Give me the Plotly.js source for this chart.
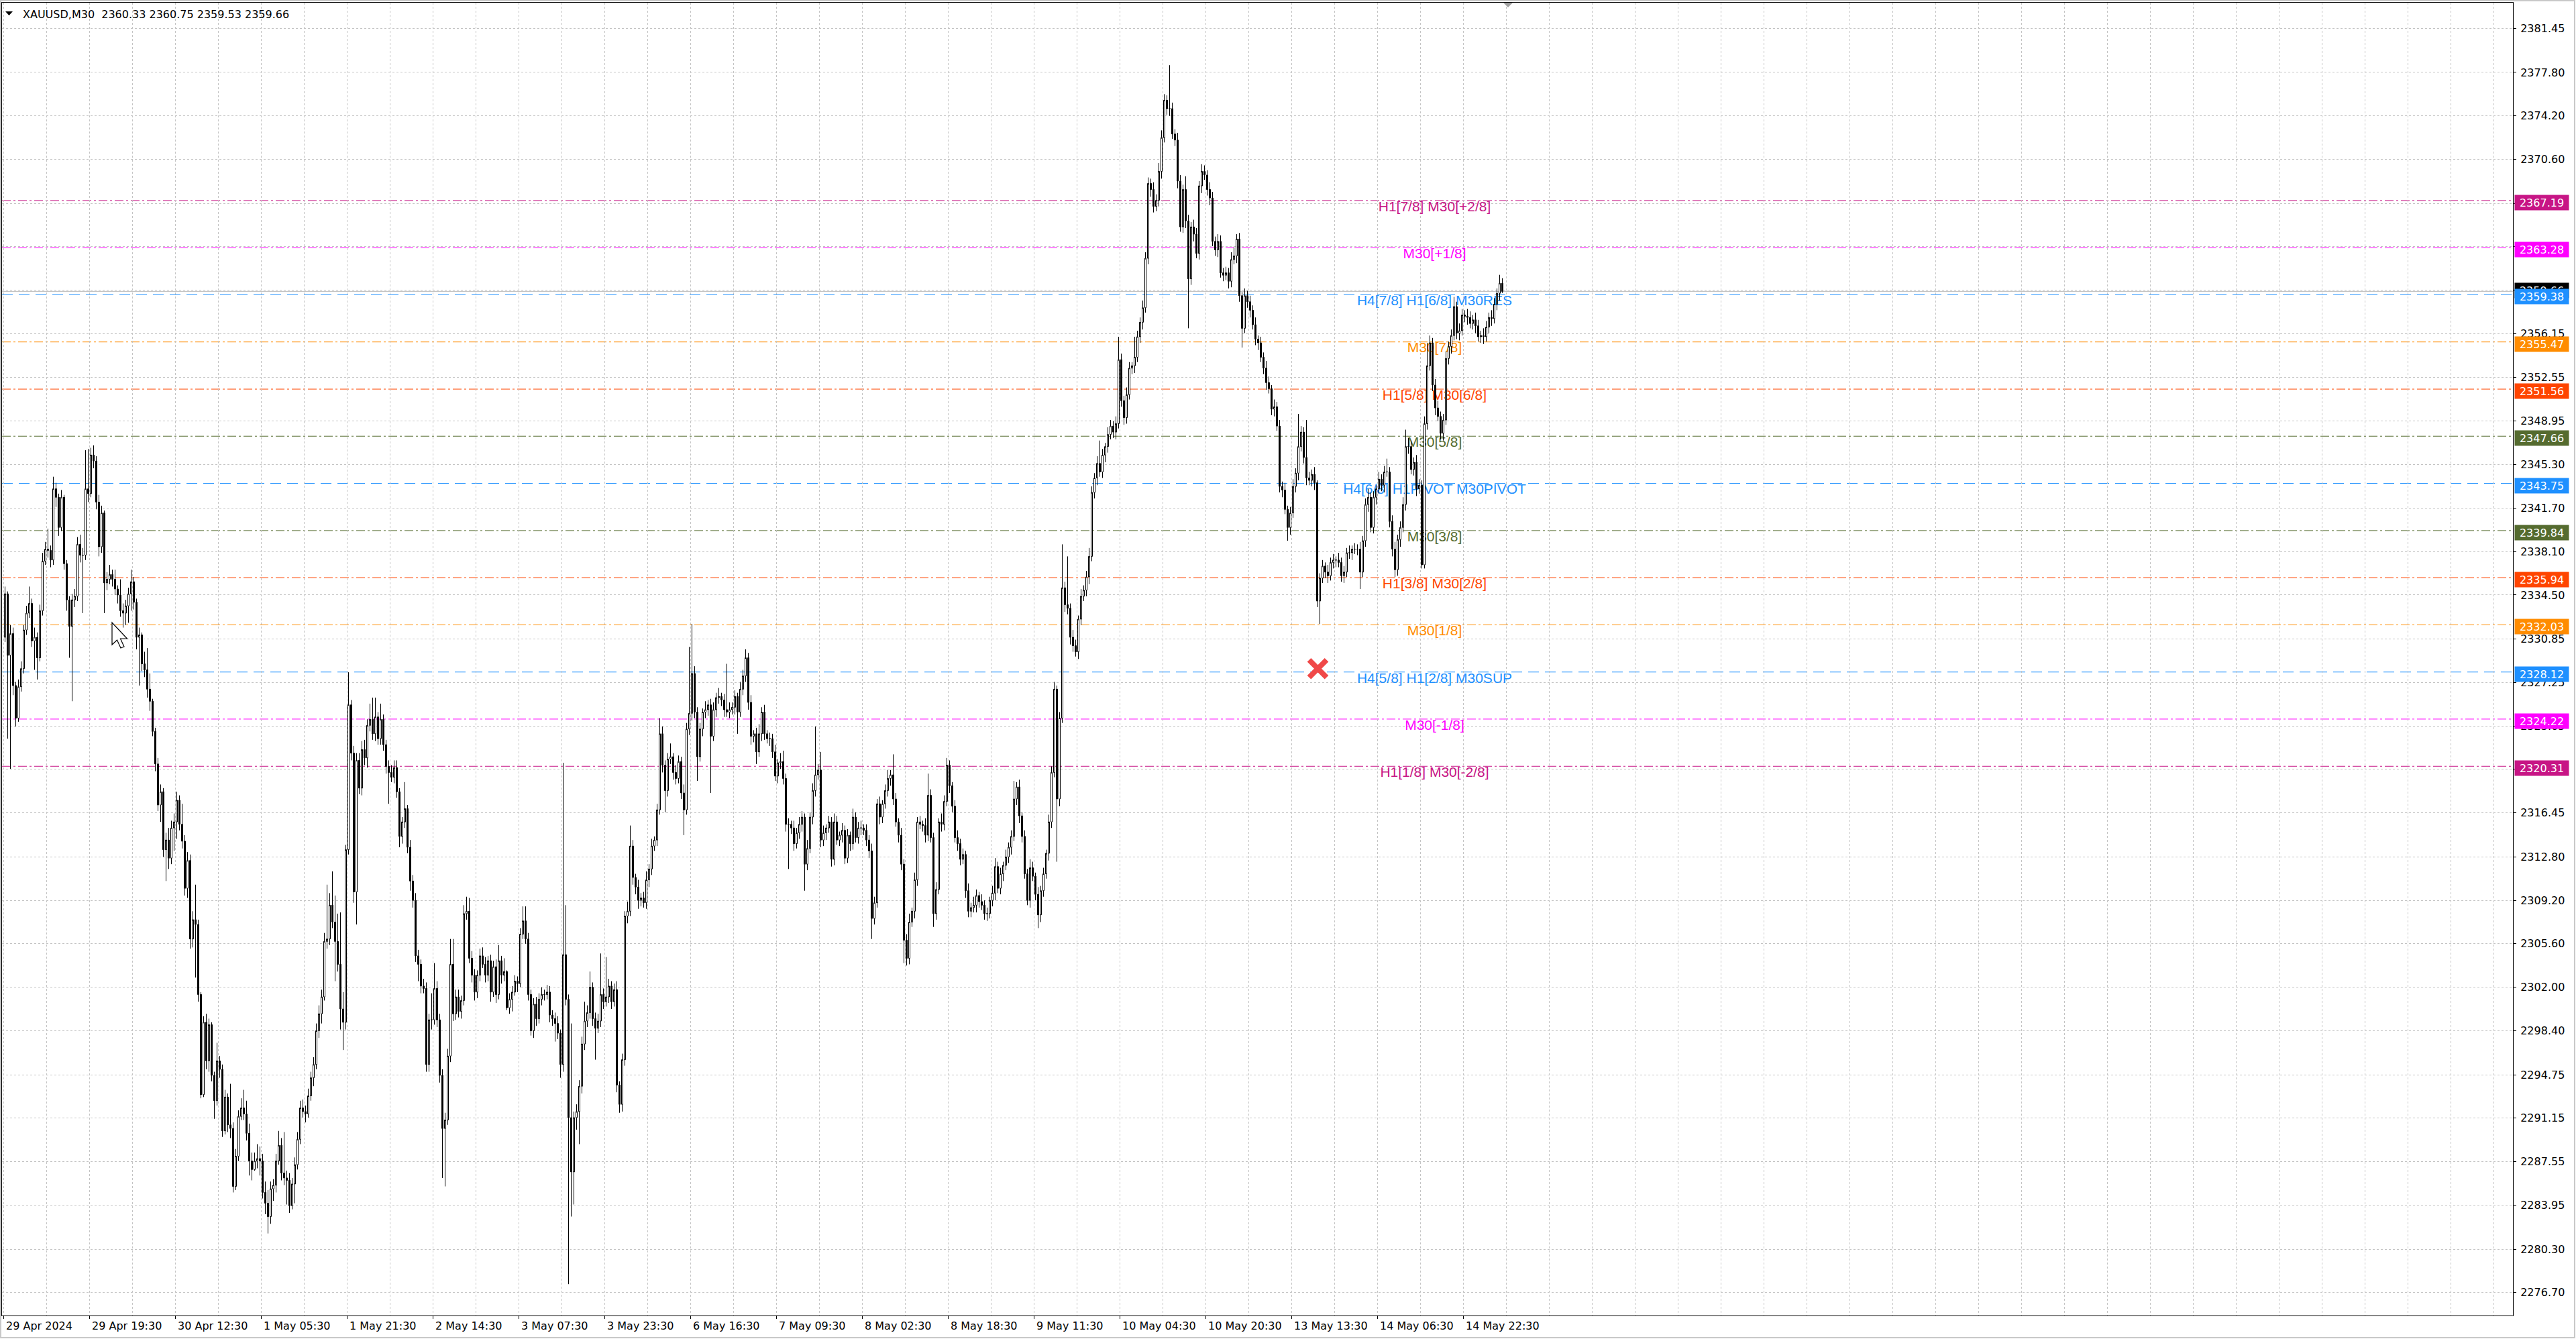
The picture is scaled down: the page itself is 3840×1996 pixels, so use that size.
<!DOCTYPE html>
<html>
<head>
<meta charset="utf-8">
<script src="https://cdn.plot.ly/plotly-3.0.1.min.js"></script>
<style>
  html, body { margin: 0; padding: 0; background: #ffffff; }
  #chart { width: 3840px; height: 1996px; }
</style>
</head>
<body>
<div id="chart"></div>
<script>
// XAUUSD M30 candles, 29 Apr 03:30 .. 15 May 06:30 (server time), one value per bar.
const firstOpen = 2331.0;

// Week of 29 Apr - 3 May (bars 0..224)
const week1Close = [
  2334.6,2329.5,2331.3,2327.0,2324.3,2326.9,2328.4,2331.6,2333.0,2333.8,
  2330.7,2331.0,2329.3,2333.2,2337.3,2338.3,2338.2,2337.4,2343.3,2342.6,
  2340.1,2342.6,2337.1,2334.1,2331.9,2334.1,2334.4,2338.7,2337.8,2337.8,
  2343.3,2342.9,2346.1,2345.6,2342.2,2338.5,2341.3,2335.5,2335.8,2336.2,
  2335.8,2335.0,2334.5,2333.2,2333.0,2333.6,2334.6,2335.6,2333.9,2331.0,
  2331.2,2328.8,2328.3,2326.7,2325.7,2323.2,2320.5,2317.1,2318.2,2313.4,
  2314.2,2312.7,2315.2,2315.7,2317.5,2315.5,2314.1,2310.2,2312.5,2306.0,
  2307.6,2307.2,2301.4,2293.1,2299.1,2295.9,2298.9,2294.7,2292.6,2295.9,
  2295.2,2290.1,2292.9,2290.6,2290.3,2285.5,2288.0,2291.3,2292.0,2291.5,
  2289.9,2287.6,2286.9,2287.6,2287.8,2287.6,2285.0,2284.1,2283.0,2285.3,
  2285.6,2287.6,2288.9,2286.6,2286.2,2286.0,2283.9,2285.7,2287.3,2289.4,
  2292.0,2291.7,2291.5,2293.0,2294.5,2295.6,2298.4,2299.8,2301.2,2305.8,
  2306.0,2308.8,2307.4,2305.8,2303.9,2300.2,2299.1,2313.4,2325.4,2321.4,
  2309.9,2320.8,2318.5,2321.7,2321.0,2323.7,2324.2,2323.0,2324.4,2322.6,
  2324.2,2322.1,2320.3,2319.8,2319.4,2320.2,2318.2,2314.5,2315.7,2316.8,
  2313.6,2310.8,2309.2,2304.6,2303.9,2302.1,2301.9,2295.6,2299.3,2299.3,
  2301.9,2299.3,2294.7,2290.3,2291.0,2296.3,2303.9,2299.8,2301.2,2300.0,
  2300.9,2308.1,2308.3,2304.4,2303.0,2301.6,2303.0,2304.6,2303.9,2303.0,
  2304.2,2301.6,2303.7,2301.4,2304.2,2303.0,2303.3,2300.3,2301.0,2301.6,
  2302.5,2302.3,2306.4,2307.5,2306.0,2301.4,2298.4,2300.6,2299.4,2301.0,
  2301.4,2301.4,2301.6,2299.7,2299.4,2299.0,2298.2,2295.6,2304.7,2301.0,
  2291.2,2286.7,2291.2,2291.7,2293.8,2297.3,2299.2,2299.9,2302.0,2299.4,
  2298.6,2299.2,2301.4,2300.8,2301.2
];
const week1WickUp = [
  0.6,0.2,0.7,0.5,0.3,0.6,0.6,0.4,0.6,1.4,
  0.4,0.8,0.4,0.5,0.7,0.6,1.7,0.4,1.0,0.5,
  0.3,0.6,0.2,0.3,0.3,0.5,0.6,0.6,0.8,0.6,
  3.2,3.3,0.6,0.8,0.4,0.6,0.6,0.2,0.6,0.8,
  0.4,0.8,0.3,1.3,0.6,0.5,0.5,1.0,0.4,0.3,
  0.6,0.2,1.0,1.8,1.3,0.2,0.3,0.5,0.6,0.3,
  0.6,1.0,0.6,0.7,0.7,0.4,1.7,0.5,0.7,0.5,
  0.7,2.9,0.4,0.2,0.5,0.7,0.5,0.2,0.3,1.5,
  0.4,0.4,0.6,0.3,3.4,0.5,0.6,0.5,0.8,1.5,
  1.1,0.8,0.7,0.7,1.2,1.0,0.6,0.9,1.1,0.6,
  0.5,0.6,1.2,0.6,3.4,0.6,0.6,0.5,0.6,0.6,
  0.6,0.7,0.5,0.6,0.5,0.6,0.6,0.7,0.6,0.7,
  4.5,1.0,2.8,2.2,2.3,4.3,1.4,0.4,2.7,0.4,
  0.6,0.6,0.6,0.7,0.8,0.5,1.3,1.8,1.6,0.4,
  1.3,0.4,0.4,0.5,0.6,0.6,0.6,0.3,0.4,2.2,
  0.3,0.6,0.5,0.6,0.5,0.4,0.6,0.5,0.5,2.2,
  2.1,0.6,0.5,0.5,0.6,0.6,2.1,2.1,0.6,0.6,
  0.4,0.7,1.2,1.1,0.6,0.5,0.4,0.6,0.7,0.6,
  0.4,0.5,0.5,0.6,1.3,0.4,1.1,0.1,0.5,0.5,
  0.5,0.4,0.5,1.2,1.2,0.5,0.4,0.5,0.6,0.5,
  0.6,0.4,0.6,0.5,0.4,0.5,0.6,0.3,15.9,4.1,
  0.4,7.8,0.5,0.6,0.5,0.6,1.6,0.6,1.3,0.4,
  0.5,0.6,3.4,0.5,3.3
];
const week1WickDown = [
  0.4,6.9,9.4,0.8,0.7,0.3,0.4,0.4,0.4,0.4,
  0.5,2.4,1.8,0.3,0.4,0.3,0.6,0.6,0.4,0.8,
  0.7,0.3,0.5,0.9,2.6,6.2,0.6,0.4,0.6,4.8,
  0.4,0.7,0.3,0.6,0.6,0.8,0.5,2.5,0.6,0.4,
  0.6,0.5,0.7,0.5,1.2,1.0,1.4,1.4,0.6,1.0,
  4.0,0.6,0.6,0.7,0.8,0.4,0.6,0.5,1.4,0.6,
  2.6,0.9,0.5,1.9,1.4,0.5,0.6,0.6,0.8,0.8,
  0.7,4.4,0.6,0.3,0.2,0.7,0.9,0.5,1.5,0.4,
  0.7,0.5,0.3,0.6,0.8,0.5,0.3,0.4,0.3,0.5,
  0.6,1.2,0.9,0.1,0.6,1.2,0.5,0.9,1.4,0.6,
  1.0,0.6,0.3,0.6,0.6,2.0,0.6,0.3,1.6,0.4,
  0.4,0.5,0.7,0.3,0.4,0.7,0.4,0.6,0.8,0.3,
  0.6,0.5,0.5,3.3,0.6,1.7,2.3,0.6,0.4,0.6,
  0.9,2.7,0.5,0.6,0.6,0.8,0.5,0.5,0.6,0.5,
  0.5,0.5,0.6,2.6,0.4,0.5,0.5,0.9,0.6,0.5,
  0.5,0.8,0.6,0.5,1.4,0.6,0.4,0.6,0.6,0.8,
  0.4,0.6,0.6,4.1,4.8,0.4,0.5,0.6,0.5,0.5,
  0.6,0.4,0.5,0.4,0.6,0.7,0.5,0.5,0.3,0.6,
  0.5,0.8,0.4,0.7,0.4,0.7,0.5,0.2,0.5,1.0,
  0.3,0.7,0.3,0.4,0.4,0.5,0.4,0.6,0.6,0.4,
  0.5,0.5,0.4,0.6,0.6,1.5,0.5,1.1,0.6,0.5,
  13.8,3.7,2.7,1.0,2.7,0.6,0.5,0.5,0.5,0.6,
  2.6,0.4,0.5,0.6,0.4
];

// Week of 6 - 10 May (bars 225..454)
const week2Close = [
  2302.1,2300.8,2301.8,2293.9,2292.3,2296.0,2307.9,2308.3,2313.7,2311.1,
  2310.3,2309.2,2309.4,2309.0,2310.9,2311.8,2313.7,2314.2,2316.7,2323.0,
  2320.4,2318.3,2320.9,2321.1,2319.8,2319.3,2320.7,2318.1,2316.7,2323.4,
  2324.7,2328.0,2324.8,2321.1,2323.4,2324.8,2325.0,2325.4,2322.8,2325.0,
  2326.0,2326.1,2325.8,2325.0,2324.8,2325.0,2325.2,2326.1,2324.8,2326.7,
  2327.8,2329.3,2325.6,2322.8,2323.0,2321.5,2323.0,2324.8,2323.0,2322.6,
  2322.6,2321.5,2319.5,2320.6,2320.7,2319.3,2315.5,2315.5,2315.2,2313.9,
  2314.8,2315.5,2316.1,2312.2,2313.5,2316.1,2318.3,2319.6,2320.0,2314.2,
  2314.8,2315.2,2315.7,2312.6,2315.7,2314.2,2314.6,2315.0,2312.7,2314.6,
  2313.9,2316.1,2314.4,2315.2,2315.2,2315.0,2314.2,2313.3,2307.7,2309.0,
  2317.2,2316.1,2317.2,2318.3,2319.3,2319.6,2317.6,2315.7,2314.6,2312.2,
  2305.9,2304.4,2307.4,2308.3,2310.9,2315.7,2315.5,2315.4,2314.6,2317.9,
  2314.4,2308.1,2310.1,2315.7,2315.5,2317.4,2320.4,2318.7,2317.0,2314.4,
  2313.9,2312.6,2313.0,2310.0,2308.3,2308.6,2308.8,2309.6,2309.1,2308.8,
  2308.1,2308.1,2309.2,2309.8,2312.0,2310.2,2311.4,2312.1,2312.8,2313.6,
  2314.5,2317.6,2318.6,2316.2,2314.5,2311.4,2309.2,2311.9,2311.2,2309.7,
  2308.0,2310.0,2311.4,2313.1,2315.7,2319.8,2326.7,2317.6,2324.3,2335.1,
  2333.7,2333.4,2331.0,2330.3,2329.8,2332.5,2334.4,2334.9,2336.0,2337.7,
  2343.0,2344.2,2345.4,2344.7,2346.1,2346.8,2347.8,2348.5,2348.0,2348.7,
  2354.0,2350.6,2349.2,2351.1,2353.3,2353.5,2354.2,2355.9,2357.1,2358.3,
  2362.4,2368.6,2368.1,2366.7,2367.2,2369.6,2372.4,2375.5,2374.8,2374.8,
  2372.7,2372.2,2368.8,2365.0,2368.1,2365.5,2360.7,2365.0,2364.4,2362.8,
  2368.4,2369.6,2369.3,2368.1,2367.4,2363.8,2363.1,2363.8,2361.2,2361.0
];
const week2WickUp = [
  0.6,0.4,0.5,0.7,0.3,0.5,0.4,0.8,1.7,0.5,
  0.3,0.6,0.4,0.5,0.7,0.4,0.6,0.3,0.5,1.3,
  0.6,0.4,0.5,1.1,0.3,0.6,0.5,0.4,0.7,0.5,
  5.5,4.1,0.6,0.4,0.5,0.3,0.7,0.4,0.5,0.6,
  0.4,0.7,0.3,0.5,3.8,0.6,0.4,0.5,0.3,0.6,
  0.5,0.7,0.4,0.6,0.3,0.5,0.8,0.4,0.6,0.3,
  0.5,0.4,0.6,0.3,0.7,0.9,0.4,0.5,0.3,0.6,
  0.4,0.6,0.5,0.3,0.7,0.4,0.6,4.0,0.5,1.5,
  0.6,0.3,0.5,0.4,0.7,0.5,0.3,0.6,0.4,0.5,
  0.3,0.7,0.4,0.5,0.6,0.3,0.5,0.4,0.6,0.5,
  0.4,0.6,0.3,0.5,0.7,0.4,1.7,0.5,0.3,0.6,
  0.4,0.5,0.7,0.3,0.6,0.4,0.5,0.3,0.6,1.8,
  0.5,0.4,0.6,0.3,0.7,0.5,0.6,0.4,0.3,0.5,
  0.6,0.4,0.5,0.3,0.6,0.4,0.7,0.5,0.3,0.6,
  0.4,0.5,0.3,0.6,0.7,0.4,0.5,0.3,0.6,0.4,
  0.5,1.5,0.4,0.6,0.3,0.5,0.4,0.7,0.5,0.3,
  0.6,0.4,0.5,0.3,0.6,0.5,0.6,0.3,0.5,3.6,
  0.5,4.0,0.4,0.6,0.5,0.3,0.6,0.4,0.5,0.7,
  0.5,0.4,0.6,1.9,0.5,0.3,0.6,0.5,0.4,0.6,
  1.9,0.5,0.4,0.6,0.5,0.3,1.7,0.5,0.4,0.6,
  0.5,0.5,0.4,0.6,0.5,0.7,0.6,0.5,0.4,3.6,
  0.5,0.4,0.6,0.5,0.4,1.1,0.5,0.4,0.6,0.5,
  0.4,0.6,0.5,0.4,0.6,0.5,0.4,0.6,0.5,0.4
];
const week2WickDown = [
  0.5,0.6,0.4,0.6,0.7,0.6,0.5,0.6,0.4,0.6,
  0.6,0.7,0.5,0.4,0.5,0.6,0.5,0.4,0.5,0.4,
  0.6,1.8,0.5,0.4,0.6,0.5,0.4,0.5,2.1,0.4,
  0.5,0.6,0.5,2.0,0.4,0.6,0.5,0.5,4.7,0.4,
  0.6,0.5,0.5,0.6,0.4,0.5,0.4,0.6,1.8,0.4,
  0.5,0.5,0.6,0.7,0.5,1.0,0.4,0.6,0.5,0.4,
  0.6,0.5,0.4,0.6,0.5,0.5,0.6,3.7,0.5,0.6,
  0.4,0.5,0.6,2.2,0.5,0.4,0.6,0.5,0.4,0.6,
  0.5,0.6,0.4,0.6,0.5,0.4,0.5,0.6,0.5,0.4,
  0.6,0.5,0.4,0.5,0.6,0.4,0.5,0.6,1.7,0.5,
  0.4,0.6,0.5,0.4,0.5,0.6,0.5,0.4,0.6,0.5,
  1.9,0.6,0.5,0.4,0.6,0.5,0.4,0.5,0.6,0.5,
  0.4,1.1,0.5,0.4,0.6,0.5,0.4,0.6,0.5,0.4,
  0.6,0.5,0.4,0.6,0.5,0.5,0.4,0.6,0.5,0.4,
  0.5,0.6,0.4,0.5,0.6,0.4,0.5,0.6,0.4,0.5,
  0.6,0.4,0.5,0.6,0.5,0.4,0.4,0.6,0.4,0.5,
  1.1,0.6,0.5,0.4,0.6,0.5,0.4,5.2,0.6,0.4,
  0.6,0.5,0.6,0.5,0.4,0.6,0.5,0.4,0.5,0.6,
  0.4,0.5,0.6,0.4,0.5,0.6,0.5,0.4,0.5,0.6,
  0.4,0.5,0.6,0.5,0.4,0.5,0.6,0.4,0.5,0.6,
  0.4,0.5,0.6,0.5,0.4,0.5,0.6,0.4,0.5,0.6,
  0.4,0.5,0.6,0.4,0.5,0.6,4.1,0.5,0.6,0.4,
  0.5,0.6,0.4,0.5,0.6,0.4,0.5,0.6,0.4,0.5
];

// 13 - 15 May (bars 455..558)
const week3Close = [
  2361.2,2360.5,2362.3,2362.6,2364.0,2359.3,2356.6,2359.3,2358.8,2358.1,
  2356.9,2355.7,2355.4,2354.2,2353.3,2352.1,2351.6,2349.9,2350.1,2348.5,
  2343.5,2343.2,2341.6,2340.1,2341.3,2343.5,2344.6,2346.8,2348.0,2345.9,
  2344.2,2344.0,2344.5,2343.8,2334.0,2335.9,2336.9,2336.4,2336.1,2337.2,
  2337.4,2337.4,2337.2,2336.1,2336.4,2338.0,2338.0,2338.3,2338.3,2338.3,
  2336.4,2339.0,2342.0,2342.6,2340.1,2342.6,2343.3,2344.1,2343.6,2344.7,
  2344.7,2340.6,2338.3,2336.6,2339.1,2340.1,2342.0,2346.8,2346.8,2344.9,
  2345.5,2343.3,2343.6,2337.0,2348.7,2353.5,2355.4,2351.9,2350.0,2349.3,
  2347.9,2349.0,2354.1,2355.1,2356.0,2358.4,2356.2,2356.4,2357.7,2357.6,
  2357.5,2357.0,2357.3,2356.8,2355.9,2356.0,2355.9,2356.7,2357.5,2357.4,
  2358.6,2359.5,2360.33,2359.66
];
const week3WickUp = [
  0.5,0.4,0.6,0.7,0.4,0.5,0.3,0.6,0.4,0.5,
  0.4,0.6,0.3,0.5,0.4,0.6,0.5,0.3,0.6,0.4,
  0.5,0.4,0.6,0.3,0.5,0.6,0.4,2.7,0.5,0.4,
  3.1,0.5,0.4,0.6,0.2,0.4,0.5,0.3,0.6,0.4,
  0.5,0.3,0.6,0.4,0.5,0.4,0.6,0.3,0.5,0.4,
  0.6,0.4,0.5,0.7,0.4,0.5,0.3,0.6,0.4,0.5,
  1.1,0.4,0.5,0.6,0.4,0.5,0.6,1.4,0.7,0.5,
  0.4,0.6,0.5,0.4,0.6,1.9,0.6,0.4,0.5,0.6,
  0.4,0.5,0.6,0.4,0.5,0.8,0.4,0.6,0.5,0.4,
  0.6,0.5,0.4,0.6,0.5,0.4,0.6,0.5,0.4,0.6,
  0.5,0.4,0.7,0.42
];
const week3WickDown = [
  0.4,0.6,0.5,0.4,0.6,0.5,1.6,0.4,0.5,0.6,
  0.4,0.5,0.6,0.4,0.5,0.6,0.4,0.5,0.6,0.4,
  0.5,0.6,0.4,1.1,0.6,0.4,0.5,0.6,0.4,0.5,
  0.6,0.4,0.5,0.6,0.5,1.9,0.4,0.5,0.6,0.4,
  0.5,0.6,0.4,0.5,0.6,0.4,0.5,0.6,0.4,0.5,
  1.4,0.4,0.5,0.6,0.4,0.5,0.6,0.4,0.5,0.6,
  0.4,0.5,0.6,0.6,0.5,0.6,0.4,0.5,0.6,0.4,
  0.5,0.6,0.4,0.3,0.3,0.5,0.4,0.5,0.6,0.4,
  0.5,0.6,0.4,0.5,0.6,0.4,0.5,0.6,0.4,0.5,
  0.6,0.4,0.5,0.6,0.4,0.5,0.6,0.4,0.5,0.6,
  0.4,0.5,0.6,0.13
];

// Time axis labels and the bar each one sits on
const timeLabels = ['29 Apr 2024','29 Apr 19:30','30 Apr 12:30','1 May 05:30','1 May 21:30',
  '2 May 14:30','3 May 07:30','3 May 23:30','6 May 16:30','7 May 09:30','8 May 02:30',
  '8 May 18:30','9 May 11:30','10 May 04:30','10 May 20:30','13 May 13:30','14 May 06:30','14 May 22:30'];
const timeLabelBars = [0,32,64,96,128,160,192,224,256,288,320,352,384,416,448,480,512,544];

// Price scale labels
const priceTicks = [2381.45,2377.80,2374.20,2370.60,2366.95,2363.35,2359.75,2356.15,2352.55,2348.95,
  2345.30,2341.70,2338.10,2334.50,2330.85,2327.25,2323.65,2320.05,2316.45,2312.80,2309.20,2305.60,
  2302.00,2298.40,2294.75,2291.15,2287.55,2283.95,2280.30,2276.70];

// Murrey-math style levels
const levelPrices = [2367.19,2363.28,2359.38,2355.47,2351.56,2347.66,2343.75,2339.84,2335.94,2332.03,2328.12,2324.22,2320.31];
const levelNames = ['H1[7/8] M30[+2/8]','M30[+1/8]','H4[7/8] H1[6/8] M30RES','M30[7/8]','H1[5/8] M30[6/8]',
  'M30[5/8]','H4[6/8] H1PIVOT M30PIVOT','M30[3/8]','H1[3/8] M30[2/8]','M30[1/8]','H4[5/8] H1[2/8] M30SUP',
  'M30[-1/8]','H1[1/8] M30[-2/8]'];
const levelColors = ['#C71585','#FF00FF','#1E90FF','#FF8C00','#FF4500','#556B2F','#1E90FF','#556B2F',
  '#FF4500','#FF8C00','#1E90FF','#FF00FF','#C71585'];
const levelStyles = ['dashdot','dashdot','dash','dashdot','dashdot','dashdot','dash','dashdot',
  'dashdot','dashdot','dash','dashdot','dashdot'];

// Signal cross
const signalBar = [489.25];
const signalPrice = [2328.4];

// ---- build OHLC ----
const closes = week1Close.concat(week2Close, week3Close);
const wickUp = week1WickUp.concat(week2WickUp, week3WickUp);
const wickDown = week1WickDown.concat(week2WickDown, week3WickDown);
const r2 = v => Math.round(v * 100) / 100;
const bars = closes.map((_, i) => i);
const opens = closes.map((c, i) => i === 0 ? firstOpen : closes[i - 1]);
const highs = closes.map((c, i) => r2(Math.max(opens[i], c) + wickUp[i]));
const lows = closes.map((c, i) => r2(Math.min(opens[i], c) - wickDown[i]));
const last = closes.length - 1;

// ---- geometry ----
const W = 3840, H = 1996;
const M = { l: 3, r: 94, t: 4, b: 35 };
const plotW = W - M.l - M.r, plotH = H - M.t - M.b;
const barPx = 4;                                    // 4 px per bar
const x0 = -1.125;                                  // bar centres fall on pixel centres
const xRange = [x0, x0 + plotW / barPx];
const yRange = [2274.80, 2383.58];
const px2x = p => (p - M.l) / plotW;
const py2y = p => 1 - (p - M.t) / plotH;
const labelBar = 532.75;

const dashOf = s => s === 'dash' ? '16px,9px' : '13px,4px,3px,4px';
const gridColor = '#c4c4c4';
const gridDash = '3px,3px';

// ---- traces ----
const levelText = {
  type: 'scatter', mode: 'text', xaxis: 'x', yaxis: 'y',
  x: levelPrices.map(() => labelBar), y: levelPrices, text: levelNames,
  textposition: 'bottom center',
  textfont: { family: 'Liberation Sans, Arial, sans-serif', size: 21, color: levelColors },
  hoverinfo: 'skip', showlegend: false
};

const candles = {
  type: 'candlestick', xaxis: 'x2', yaxis: 'y2',
  x: bars, open: opens, high: highs, low: lows, close: closes,
  increasing: { line: { color: '#000000', width: 1 }, fillcolor: '#ffffff' },
  decreasing: { line: { color: '#000000', width: 1 }, fillcolor: '#000000' },
  whiskerwidth: 0, hoverinfo: 'skip', showlegend: false
};

const signal = {
  type: 'scatter', mode: 'markers', xaxis: 'x2', yaxis: 'y2',
  x: signalBar, y: signalPrice,
  marker: { symbol: 'x-thin', size: 26, line: { width: 8, color: '#f04848' } },
  hoverinfo: 'skip', showlegend: false
};

// ---- shapes ----
const shapes = [];
levelPrices.forEach((p, i) => {
  shapes.push({
    type: 'line', xref: 'paper', yref: 'y', x0: 0, x1: 1, y0: p, y1: p, layer: 'between',
    line: { color: levelColors[i], width: 1, dash: dashOf(levelStyles[i]) }
  });
});
// bid line
shapes.push({
  type: 'line', xref: 'paper', yref: 'y', x0: 0, x1: 1, y0: closes[last], y1: closes[last],
  layer: 'between', line: { color: '#b8b8b8', width: 1 }
});
// drop-down arrow in the title
const tri = [[8, 17], [19, 17], [13.5, 23]];
shapes.push({
  type: 'path', xref: 'paper', yref: 'paper',
  path: 'M' + tri.map(p => px2x(p[0]) + ',' + py2y(p[1])).join(' L') + ' Z',
  fillcolor: '#000000', line: { width: 0 }
});
// chart shift marker on the top edge
const shiftTri = [[2241, 4], [2255, 4], [2248, 11]];
shapes.push({
  type: 'path', xref: 'paper', yref: 'paper',
  path: 'M' + shiftTri.map(p => px2x(p[0]) + ',' + py2y(p[1])).join(' L') + ' Z',
  fillcolor: '#a0a0a0', line: { width: 0 }
});
// mouse pointer
const tip = [167, 928];
const arrow = [[0, 0], [0, 33], [7.5, 26], [13, 38], [18, 36], [12.5, 24], [22.5, 24]];
shapes.push({
  type: 'path', xref: 'paper', yref: 'paper',
  path: 'M' + arrow.map(p => px2x(tip[0] + p[0]) + ',' + py2y(tip[1] + p[1])).join(' L') + ' Z',
  fillcolor: '#ffffff', line: { color: '#000000', width: 1.2 }
});
// window frame
shapes.push({
  type: 'rect', xref: 'paper', yref: 'paper',
  x0: px2x(1), x1: px2x(3838), y0: py2y(1994), y1: py2y(1),
  line: { color: '#c8c8c8', width: 2 }, fillcolor: 'rgba(0,0,0,0)'
});

// ---- annotations ----
const annotations = [];
const nb = '\u00a0';
annotations.push({
  xref: 'paper', yref: 'paper', x: px2x(32), y: py2y(21.5), xanchor: 'left', yanchor: 'middle',
  text: 'XAUUSD,M30' + nb + nb + opens[last].toFixed(2) + ' ' + highs[last].toFixed(2) + ' ' +
        lows[last].toFixed(2) + ' ' + closes[last].toFixed(2),
  showarrow: false, font: { family: 'DejaVu Sans', size: 16, color: '#000000' }
});
timeLabels.forEach((t, i) => {
  annotations.push({
    xref: 'x', yref: 'paper', x: timeLabelBars[i] - 0.4, y: 0, xanchor: 'left', yanchor: 'top',
    xshift: 1, yshift: -4, text: t, showarrow: false,
    font: { family: 'DejaVu Sans', size: 16, color: '#000000' }
  });
});
// price tags on the scale: bid tag first so the level tags sit over it
const tags = [{ p: closes[last], c: '#000000', dy: 1.5 }].concat(
  levelPrices.map((p, i) => ({ p: p, c: levelColors[i], dy: -3 }))
);
tags.forEach(t => {
  annotations.push({
    xref: 'paper', yref: 'y', x: 1, y: t.p, xanchor: 'left', yanchor: 'middle', xshift: 2, yshift: t.dy,
    text: t.p.toFixed(2), showarrow: false, bgcolor: t.c, width: 78, height: 20, borderpad: 1,
    align: 'center', valign: 'middle',
    font: { family: 'DejaVu Sans', size: 16, color: '#ffffff' }
  });
});

// ---- layout ----
const layout = {
  width: W, height: H, margin: M,
  paper_bgcolor: '#ffffff', plot_bgcolor: '#ffffff',
  showlegend: false, dragmode: false, boxgap: 0.5, boxgroupgap: 0,
  xaxis: {
    range: xRange, showticklabels: false,
    tickmode: 'array', tickvals: timeLabelBars.map(b => b - 0.4),
    ticks: 'outside', ticklen: 4, tickcolor: '#000000',
    showgrid: true, gridcolor: gridColor, griddash: gridDash, gridwidth: 1,
    minor: { tickmode: 'linear', tick0: -0.4, dtick: 16, showgrid: true,
             gridcolor: gridColor, griddash: gridDash, gridwidth: 1, ticks: '' },
    showline: true, mirror: true, linecolor: '#000000', linewidth: 1,
    zeroline: false, fixedrange: true, rangeslider: { visible: false }
  },
  yaxis: {
    range: yRange, side: 'right',
    tickmode: 'array', tickvals: priceTicks, ticktext: priceTicks.map(v => v.toFixed(2)),
    ticks: 'outside', ticklen: 4, tickcolor: '#000000', ticklabelstandoff: 3,
    tickfont: { family: 'DejaVu Sans', size: 16, color: '#000000' },
    showgrid: true, gridcolor: gridColor, griddash: gridDash, gridwidth: 1,
    showline: true, mirror: true, linecolor: '#000000', linewidth: 1,
    zeroline: false, fixedrange: true
  },
  xaxis2: {
    overlaying: 'x', range: xRange, visible: false, showgrid: false, zeroline: false,
    fixedrange: true, rangeslider: { visible: false }
  },
  yaxis2: {
    overlaying: 'y', range: yRange, visible: false, showgrid: false, zeroline: false,
    fixedrange: true
  },
  shapes: shapes,
  annotations: annotations
};

Plotly.newPlot('chart', [levelText, candles, signal], layout, { staticPlot: true, displayModeBar: false });
</script>
</body>
</html>
